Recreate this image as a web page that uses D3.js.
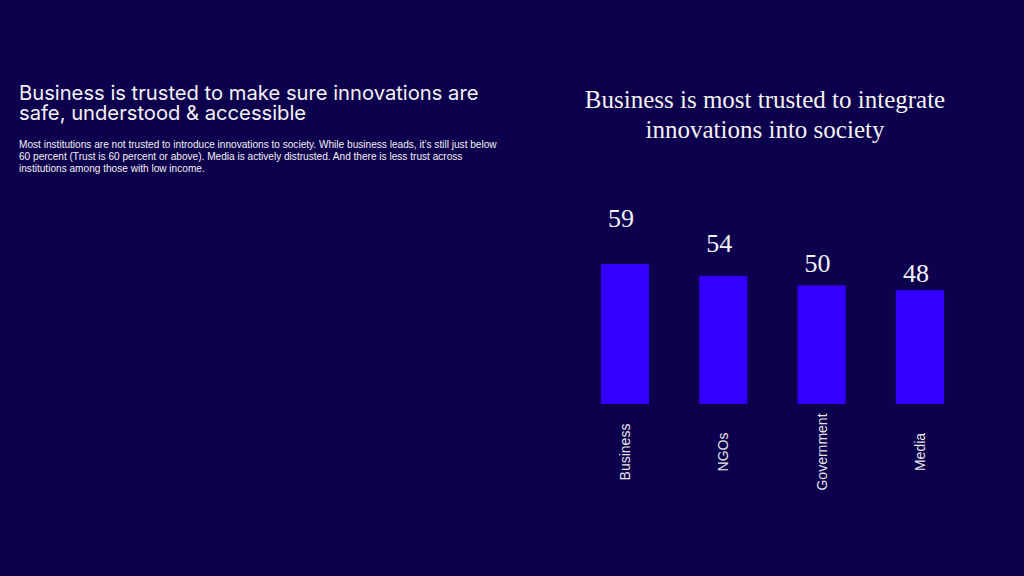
<!DOCTYPE html>
<html>
<head>
<meta charset="utf-8">
<script src="https://cdn.jsdelivr.net/npm/d3@7"></script>
<style>
  html, body { margin: 0; padding: 0; background: #0d004c; }
  svg { display: block; }
</style>
</head>
<body>
<svg id="chart" width="1024" height="576"></svg>
<script>
// ---- data ----
const categories = ["Business", "NGOs", "Government", "Media"];
const values = [59, 54, 50, 48];
const leftTitleLines = ["Business is trusted to make sure innovations are", "safe, understood & accessible"];
const bodyLines = [
  "Most institutions are not trusted to introduce innovations to society. While business leads, it\u2019s still just below",
  "60 percent (Trust is 60 percent or above). Media is actively distrusted. And there is less trust across",
  "institutions among those with low income."
];
const chartTitleLines = ["Business is most trusted to integrate", "innovations into society"];

// ---- styles ----
const bg = "#0d004c";
const barColor = "#3300ff";
const textColor = "#f2f2f2";

const svg = d3.select("#chart");
svg.append("rect").attr("width", 1024).attr("height", 576).attr("fill", bg);

// left heading
svg.append("g").selectAll("text").data(leftTitleLines).join("text")
  .attr("x", 19).attr("y", (d, i) => 100 + i * 20)
  .attr("font-family", "Inter, 'Noto Sans', sans-serif")
  .attr("font-size", 20.2)
  .attr("fill", textColor)
  .text(d => d);

svg.append("g").selectAll("text").data(bodyLines).join("text")
  .attr("x", 19).attr("y", (d, i) => 148 + i * 12)
  .attr("font-family", "'Liberation Sans', Arial, sans-serif")
  .attr("font-size", 10.1)
  .attr("fill", textColor)
  .text(d => d);

// chart title
svg.append("g").selectAll("text").data(chartTitleLines).join("text")
  .attr("x", 765).attr("y", (d, i) => 108 + i * 30)
  .attr("text-anchor", "middle")
  .attr("font-family", "'Liberation Serif', 'Times New Roman', serif")
  .attr("font-size", 25)
  .attr("fill", textColor)
  .text(d => d);

// scales
const x = d3.scaleBand().domain(categories).range([575.8, 969.1]).paddingInner(0.51).paddingOuter(0.255);
const baseY = 404;
const y = d3.scaleLinear().domain([0, 59]).range([baseY, 264]);
// value labels sit on their own compressed scale
const labelY = d3.scaleLinear().domain([48, 59]).range([282, 227]);

const data = categories.map((c, i) => ({ c, v: values[i] }));

svg.append("g").selectAll("rect").data(data).join("rect")
  .attr("x", d => x(d.c))
  .attr("y", d => y(d.v))
  .attr("width", x.bandwidth())
  .attr("height", d => baseY - y(d.v))
  .attr("fill", barColor);

svg.append("g").selectAll("text").data(data).join("text")
  .attr("x", d => x(d.c) + x.bandwidth() / 2 - 4)
  .attr("y", d => labelY(d.v))
  .attr("text-anchor", "middle")
  .attr("font-family", "'Liberation Serif', 'Times New Roman', serif")
  .attr("font-size", 26)
  .attr("fill", textColor)
  .text(d => d.v);

// category axis (rotated labels, no line)
const axis = svg.append("g")
  .attr("transform", `translate(0, 452)`)
  .call(d3.axisBottom(x).tickSize(0).tickPadding(0));
axis.select(".domain").remove();
axis.selectAll(".tick text")
  .attr("transform", "rotate(-90)")
  .attr("x", 0).attr("y", 0).attr("dy", "0.35em")
  .attr("text-anchor", "middle")
  .attr("font-family", "'Liberation Sans', Arial, sans-serif")
  .attr("font-size", 14)
  .attr("fill", "#e6e6e6");
</script>
</body>
</html>
